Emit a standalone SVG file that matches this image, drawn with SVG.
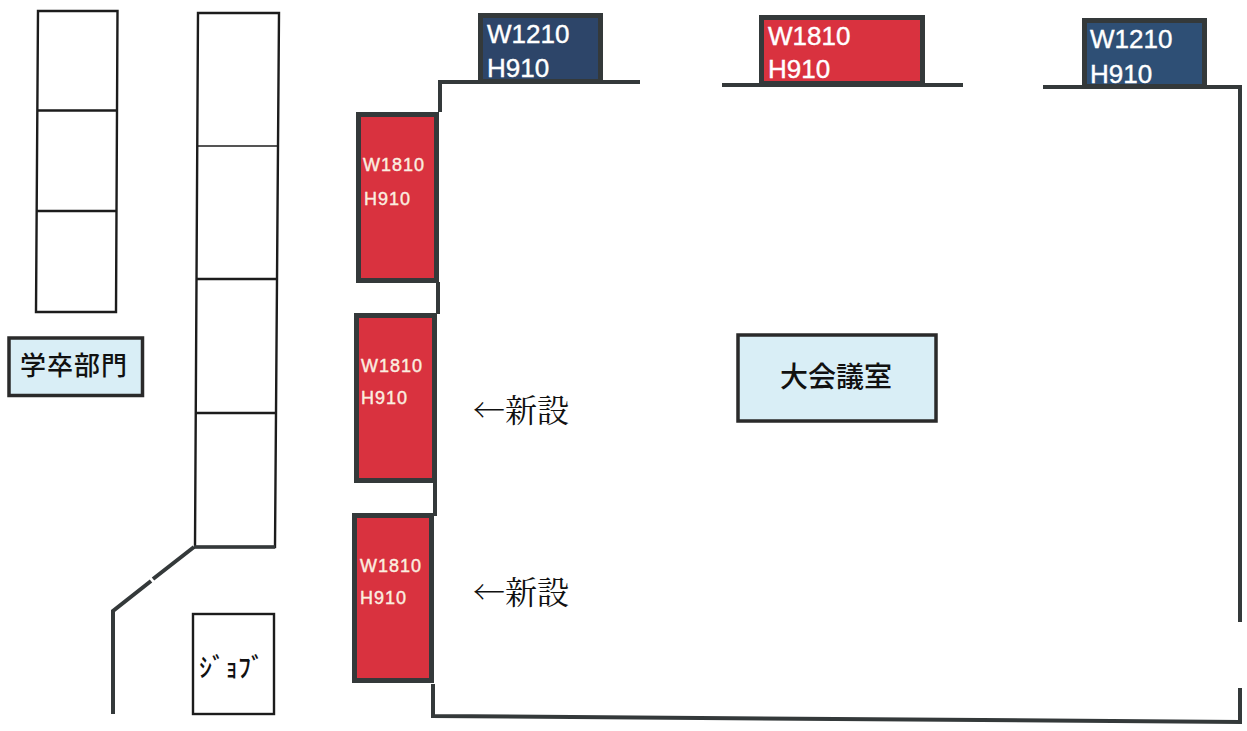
<svg xmlns="http://www.w3.org/2000/svg" width="1247" height="731" viewBox="0 0 1247 731">
<style>
.wall{fill:none;stroke:#34393a;stroke-width:4}
.thin{fill:#fff;stroke:#1c1c1c;stroke-width:2.4}
.red{fill:#d9323f;stroke:#34393a;stroke-width:5}
.blue{fill:#2d4569;stroke:#34393a;stroke-width:5}
.lab{fill:#d9eef6;stroke:#2a2a2a;stroke-width:3.5}
.big{font:26px "Liberation Sans","Noto Sans CJK JP",sans-serif;fill:#fff;stroke:#fff;stroke-width:.4}
.small{font:18px "Liberation Sans","Noto Sans CJK JP",sans-serif;fill:#fbeee0;stroke:#fbeee0;stroke-width:.4;letter-spacing:1px}
.jp{font:500 26px "Noto Sans CJK JP",sans-serif;fill:#111}
.new{font:32px "Noto Serif CJK JP","Noto Sans CJK JP",serif;fill:#111}
</style>
<rect width="1247" height="731" fill="#fff"/>
<g id="connectors">
<path class="wall" d="M640 82H440V112M438 282V314M435 482V516M433 684V716L1240 722V688M1240 622V87H1043M963 85H722"/>
<path class="wall" d="M194 547L153 579M151 581L113 611V714"/>
</g>
<g id="left-rooms"><path class="thin" d="M38 11H117.500L116 312H36ZM38 110.500H117M37 211H116"/></g>
<g id="centre-rooms"><path class="thin" d="M198 13H279L275 547H195ZM197 279H277M196 413H276"/><path d="M198 146H278" stroke="#1c1c1c" stroke-width="1.300"/><path d="M194 547H275" stroke="#34393a" stroke-width="3.500"/></g>
<g id="dept"><rect class="lab" x="9" y="338" width="133.500" height="57.500"/><text class="jp" x="20" y="375" letter-spacing="1">学卒部門</text></g>
<g id="job"><rect class="thin" x="193" y="614" width="81" height="100"/><text class="jp" x="199" y="677" style="font-size:26px">ｼﾞｮﾌﾞ</text></g>
<g id="hall"><rect class="lab" x="738" y="335" width="198" height="86"/><text class="jp" x="836" y="387" text-anchor="middle" style="font-size:28px">大会議室</text></g>
<g id="win-top-1"><rect class="blue" x="480.500" y="15.500" width="120" height="66"/><text class="big" x="487" y="43">W1210</text><text class="big" x="487" y="77">H910</text></g>
<g id="win-top-2"><rect class="red" x="761.500" y="17.500" width="161" height="66"/><text class="big" x="768" y="45">W1810</text><text class="big" x="768" y="78">H910</text></g>
<g id="win-top-3"><rect class="blue" x="1084.500" y="20.500" width="120" height="66" style="fill:#2e4f75"/><text class="big" x="1090" y="48">W1210</text><text class="big" x="1090" y="83">H910</text></g>
<g id="win-left-1"><rect class="red" x="358.500" y="114.500" width="78" height="166"/><text class="small" x="363" y="171">W1810</text><text class="small" x="364" y="205">H910</text></g>
<g id="win-left-2"><rect class="red" x="356.500" y="315.500" width="78" height="165"/><text class="small" x="361" y="372">W1810</text><text class="small" x="361" y="404">H910</text></g>
<g id="win-left-3"><rect class="red" x="354.500" y="515.500" width="77" height="165"/><text class="small" x="360" y="572">W1810</text><text class="small" x="360" y="604">H910</text></g>
<g id="note-1"><text class="new" x="473" y="422">←新設</text></g>
<g id="note-2"><text class="new" x="473" y="604">←新設</text></g>
</svg>
